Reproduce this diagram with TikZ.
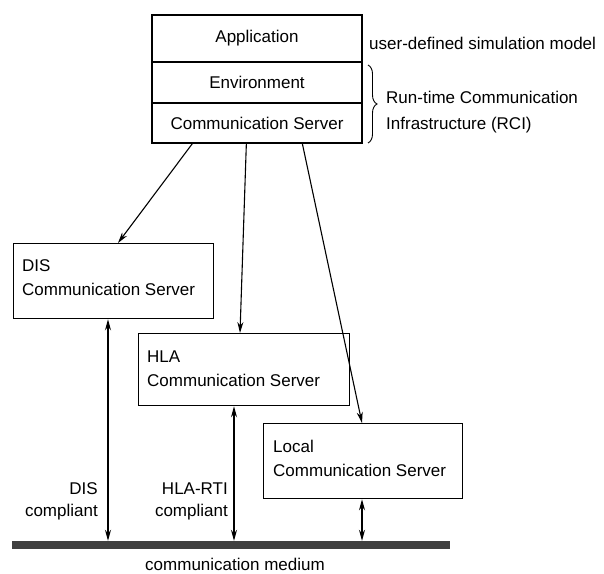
\documentclass[tikz,border=0pt]{standalone}
\usepackage{fontspec}
\setmainfont{Liberation Sans}
\usetikzlibrary{arrows.meta,decorations.pathreplacing,calc}
\begin{document}
\begin{tikzpicture}[x=1pt,y=-1pt,
  every node/.style={font=\fontsize{17}{24}\selectfont},
  layer/.style={draw,line width=1.3pt,minimum width=210pt,inner sep=0pt},
  server/.style={draw,line width=1.3pt,anchor=north west,inner sep=0pt},
  link/.style={line width=1.1pt,-{Stealth[length=11pt,width=6pt]}},
  duplex/.style={line width=1.1pt,{Stealth[length=11pt,width=6pt]}-{Stealth[length=11pt,width=6pt]}},
  tag/.style={font=\fontsize{17}{22}\selectfont,inner sep=0pt}]
\useasboundingbox (0,0) rectangle (604,573);

% layered simulation stack
\node[layer,minimum height=47pt] (app) at (257,38.5) {Application};
\node[layer,minimum height=41pt] (env) at (257,82.5) {Environment};
\node[layer,minimum height=40pt] (cs)  at (257,123) {Communication Server};

\node[inner sep=0pt,anchor=west] (model) at (369,43) {user-defined simulation model};
\draw[line width=0.9pt,decorate,decoration={brace,amplitude=9pt}] (368,65) -- (368,143);
\node[tag,anchor=west,align=left,font=\fontsize{17}{26}\selectfont] (rci) at (386,112)
  {Run-time Communication\\Infrastructure (RCI)};

% specialised servers
\node[server,minimum width=200pt,minimum height=75pt] (dis) at (13,243) {};
\node[anchor=west,align=left,inner sep=0pt] (distxt) at (22,277.5) {DIS\\Communication Server};
\node[server,minimum width=211pt,minimum height=72pt] (hla) at (138,333) {};
\node[anchor=west,align=left,inner sep=0pt] (hlatxt) at (147,369) {HLA\\Communication Server};
\node[server,minimum width=199pt,minimum height=75pt] (loc) at (263,423) {};
\node[anchor=west,align=left,inner sep=0pt] (loctxt) at (273,458.5) {Local\\Communication Server};

% communication medium
\node[draw=none,fill=black!75,minimum width=438pt,minimum height=8pt,inner sep=0pt] (medium) at (231,545) {};
\node[inner sep=0pt] (mediumtxt) at (235,564) {communication medium};

% stack to servers
\coordinate (s1) at ($(cs.south west)+(41,0)$);
\coordinate (s2) at ($(cs.south west)+(95,0)$);
\coordinate (s3) at ($(cs.south west)+(151,0)$);
\coordinate (e1) at ($(dis.north west)+(105,0)$);
\coordinate (e2) at ($(hla.north west)+(102,0)$);
\coordinate (e3) at ($(loc.north west)+(99,0)$);
\draw[link] (s1) -- (e1);
\draw[link] (s2) -- (e2);
\draw[link] (s3) -- (e3);

% servers to medium
\coordinate (d1) at ($(dis.south west)+(95,0)$);
\coordinate (d2) at ($(hla.south west)+(96,0)$);
\coordinate (d3) at ($(loc.south west)+(99,0)$);
\draw[duplex] (d1) -- (d1 |- medium.north);
\draw[duplex] (d2) -- (d2 |- medium.north);
\draw[duplex] (d3) -- (d3 |- medium.north);

\node[tag,anchor=east,align=right] (dislbl) at (98,501) {DIS\\compliant};
\node[tag,anchor=east,align=right] (hlalbl) at (228,501) {HLA-RTI\\compliant};
\end{tikzpicture}
\end{document}
